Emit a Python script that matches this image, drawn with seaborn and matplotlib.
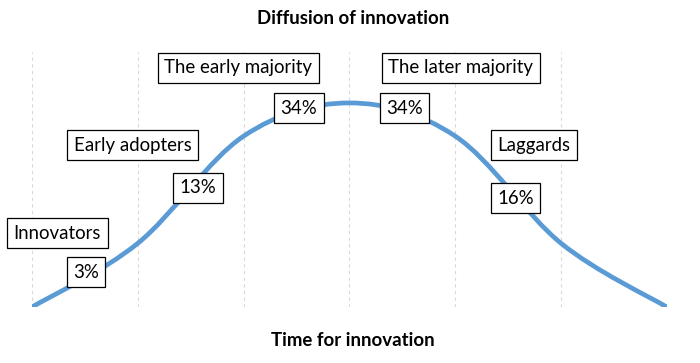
import numpy as np
import matplotlib
matplotlib.use("Agg")
import matplotlib.pyplot as plt
from matplotlib.path import Path
from matplotlib.patches import PathPatch
import seaborn as sns

# Curve data (relative adoption, y axis hidden 0-100)
stage = [0, 1, 2, 3, 4, 5, 6]
adoption = [0, 25, 67, 80, 67, 25, 0]

# Boxed labels
group_names = ["Innovators", "Early adopters", "The early majority",
               "The later majority", "Laggards"]
group_pos = [(0.24, 29.0), (0.95, 63.5), (1.95, 93.7), (4.05, 93.7), (4.74, 63.5)]
share_labels = ["3%", "13%", "34%", "34%", "16%"]
share_pos = [(0.51, 13.7), (1.57, 46.7), (2.52, 78.0), (3.52, 78.0), (4.57, 42.7)]

sns.set_theme(style="white")
plt.rcParams['font.family'] = ['Lato', 'DejaVu Sans']
plt.rcParams['text.color'] = 'black'

fig = plt.figure(figsize=(7, 3.63), dpi=100)
ax = fig.add_axes([0.0457, 0.154, 0.907, 0.703])

# Excel-like smoothed line: cubic Bezier segments through the data points
xs = np.array(stage, dtype=float)
ys = np.array(adoption, dtype=float)
verts = [(xs[0], ys[0])]
codes = [Path.MOVETO]
n = len(xs)
for i in range(n - 1):
    p0 = (xs[max(i - 1, 0)], ys[max(i - 1, 0)])
    p1 = (xs[i], ys[i])
    p2 = (xs[i + 1], ys[i + 1])
    p3 = (xs[min(i + 2, n - 1)], ys[min(i + 2, n - 1)])
    c1 = (p1[0] + (p2[0] - p0[0]) / 6, p1[1] + (p2[1] - p0[1]) / 6)
    c2 = (p2[0] - (p3[0] - p1[0]) / 6, p2[1] - (p3[1] - p1[1]) / 6)
    verts += [c1, c2, p2]
    codes += [Path.CURVE4] * 3
ax.add_patch(PathPatch(Path(verts, codes), facecolor="none",
                       edgecolor="#5B9BD5", lw=3.4, capstyle="butt", zorder=2))

ax.set_xlim(0, 6)
ax.set_ylim(0, 100)
ax.set_xticks(stage)
ax.xaxis.grid(True, color="#d9d9d9", linestyle=(0, (3, 3)), lw=0.8)
ax.set_yticks([])
ax.tick_params(axis="x", length=0, labelbottom=False)
sns.despine(ax=ax, left=True, bottom=True)

box = dict(boxstyle="square,pad=0.35", facecolor="white", edgecolor="black", lw=0.9)
for name, (x, y) in zip(group_names, group_pos):
    ax.text(x, y, name, ha="center", va="center", fontsize=13.4,
            color="black", bbox=box, zorder=3)
for lab, (x, y) in zip(share_labels, share_pos):
    ax.text(x, y, lab, ha="center", va="center", fontsize=13.4,
            color="black", bbox=box, zorder=3)

fig.text(0.504, 0.95, "Diffusion of innovation", ha="center", va="center",
         fontsize=13.4, fontweight="bold", color="black")
fig.text(0.504, 0.063, "Time for innovation", ha="center", va="center",
         fontsize=13.4, fontweight="bold", color="black")

fig.savefig("out.png", dpi=100)
